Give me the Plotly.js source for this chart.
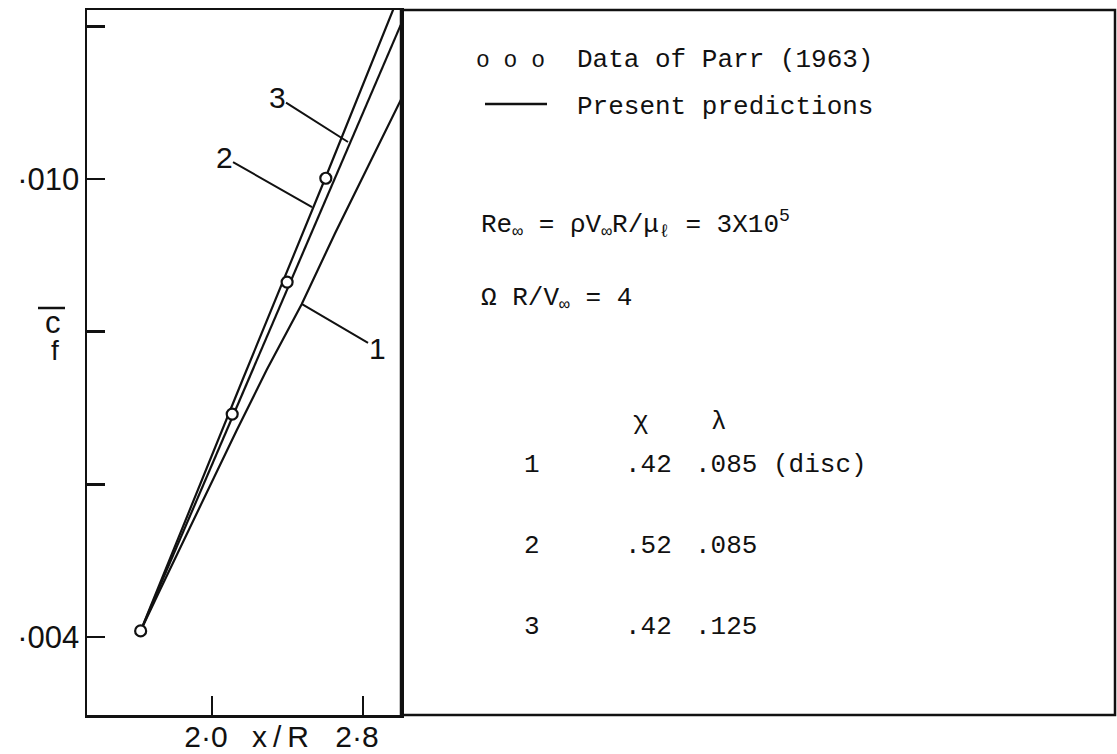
<!DOCTYPE html>
<html>
<head>
<meta charset="utf-8">
<script src="https://cdn.plot.ly/plotly-3.0.1.min.js"></script>
<style>
  html, body { margin: 0; padding: 0; background: #fff; }
  #chart { width: 1117px; height: 754px; }
</style>
</head>
<body>
<div id="chart"></div>
<script>
// Measured skin-friction data (Parr 1963)
const parrX  = [1.622, 2.107, 2.398, 2.603];
const parrCf = [0.00408, 0.00692, 0.00865, 0.01001];

// Predicted curves
const curve1X  = [1.622, 1.725, 2.131, 2.290, 2.475, 2.652, 3.001];
const curve1Cf = [0.00408, 0.00462, 0.00671, 0.00750, 0.00836, 0.00929, 0.01104];
const curve2X  = [1.622, 2.162, 2.600, 2.960];
const curve2Cf = [0.00408, 0.00737, 0.01001, 0.01222];
const curve3X  = [1.622, 2.192, 2.652, 3.000];
const curve3Cf = [0.00408, 0.00737, 0.01001, 0.01202];

// Axis ticks
const xTickVals = [2.0, 2.8];
const xTickText = ['2·0', '2·8'];
const yTickVals = [0.004, 0.006, 0.008, 0.010, 0.012];
const yTickText = ['·004', '', '', '·010', ''];

// Curve labels: [name, x, cf at leader end, leader offset dx, dy]
const curveLabels = [
  ['1', 2.477, 0.008362, 75, 44],
  ['2', 2.530, 0.009633, -88, -50],
  ['3', 2.7205, 0.010485, -71, -45]
];

// Parameter table
const tableRows  = ['1', '2', '3'];
const tableChi   = ['.42', '.52', '.42'];
const tableLam   = ['.085 (disc)', '.085', '.125'];

const W = 1117, H = 754;
const px = v => v / W;
const py = v => 1 - v / H;

const ink = '#111';
const sans = 'Liberation Sans, Arial, sans-serif';
const mono = 'Liberation Mono, DejaVu Sans Mono, monospace';

const lineStyle = { color: ink, width: 2.2 };
const traces = [
  { x: curve1X, y: curve1Cf, mode: 'lines', line: lineStyle, hoverinfo: 'skip' },
  { x: curve2X, y: curve2Cf, mode: 'lines', line: lineStyle, hoverinfo: 'skip' },
  { x: curve3X, y: curve3Cf, mode: 'lines', line: lineStyle, hoverinfo: 'skip' },
  { x: parrX, y: parrCf, mode: 'markers',
    marker: { symbol: 'circle', size: 11, color: '#fff', line: { color: ink, width: 2.2 } },
    hoverinfo: 'skip', cliponaxis: false }
];

const xDomain = [px(87), px(401)];
const yDomain = [py(715), py(10)];

const annotations = [];

curveLabels.forEach(([t, x, y, dx, dy]) => {
  annotations.push({
    x: x, y: y, xref: 'x', yref: 'y', text: t,
    showarrow: true, arrowhead: 0, arrowwidth: 2, arrowcolor: ink,
    ax: dx, ay: dy, standoff: 0, startstandoff: 0,
    font: { family: sans, size: 30, color: ink }, borderpad: 0
  });
});

const label = (x, y, text, size, family, anchor) => annotations.push({
  xref: 'paper', yref: 'paper', x: px(x), y: py(y), text: text,
  xanchor: anchor || 'center', yanchor: 'middle', showarrow: false,
  font: { family: family, size: size, color: ink }, borderpad: 0
});

// axis titles
label(280, 736, 'x\u2009/\u2009R', 30, sans);
label(53, 322, 'c', 31, sans);
label(55, 350, 'f', 28, sans);

// legend and parameter text
label(510, 61, 'o o o', 23, mono);
label(576, 60, 'Data of Parr (1963)', 26, mono, 'left');
label(576, 107, 'Present predictions', 26, mono, 'left');
label(480, 224, 'Re<sub>∞</sub> = ρV<sub>∞</sub>R/μ<sub>ℓ</sub> = 3X10<sup>5</sup>', 26, mono, 'left');
label(480, 299, 'Ω R/V<sub>∞</sub> = 4', 26, mono, 'left');
label(641, 422, 'χ', 26, mono);
label(719, 422, 'λ', 26, mono);
const rowY = [465, 546, 627];
tableRows.forEach((r, i) => {
  label(532, rowY[i], r, 26, mono);
  label(624, rowY[i], tableChi[i], 26, mono, 'left');
  label(694, rowY[i], tableLam[i], 26, mono, 'left');
});

const shapes = [
  // right-hand panel frame
  { type: 'rect', xref: 'paper', yref: 'paper', x0: xDomain[1], x1: px(1115), y0: yDomain[0], y1: yDomain[1],
    line: { color: ink, width: 2.5 } },
  // legend line sample
  { type: 'line', xref: 'paper', yref: 'paper', x0: px(485), x1: px(547), y0: py(104), y1: py(104),
    line: { color: ink, width: 2.5 } },
  // overbar on c_f
  { type: 'line', xref: 'paper', yref: 'paper', x0: px(38), x1: px(65), y0: py(308), y1: py(308),
    line: { color: ink, width: 2.5 } }
];

const layout = {
  width: W, height: H,
  margin: { l: 0, r: 0, t: 0, b: 0 },
  paper_bgcolor: '#fff', plot_bgcolor: '#fff',
  showlegend: false,
  xaxis: {
    domain: xDomain, range: [1.33775, 3.00132],
    showgrid: false, zeroline: false,
    showline: true, mirror: true, linecolor: ink, linewidth: 2.5,
    ticks: 'inside', ticklen: 19, tickwidth: 2.5, tickcolor: ink,
    tickvals: xTickVals, ticktext: xTickText, ticklabelshift: -6, ticklabelstandoff: -7,
    tickfont: { family: sans, size: 30, color: ink }
  },
  yaxis: {
    domain: yDomain, range: [0.0029782, 0.0122144],
    showgrid: false, zeroline: false,
    showline: true, mirror: true, linecolor: ink, linewidth: 2.5,
    ticks: 'inside', ticklen: 18, tickwidth: 2.5, tickcolor: ink,
    tickvals: yTickVals, ticktext: yTickText, ticklabelstandoff: -1,
    tickfont: { family: sans, size: 31, color: ink }
  },
  annotations: annotations,
  shapes: shapes
};

Plotly.newPlot('chart', traces, layout, { displayModeBar: false, staticPlot: true });
</script>
</body>
</html>
